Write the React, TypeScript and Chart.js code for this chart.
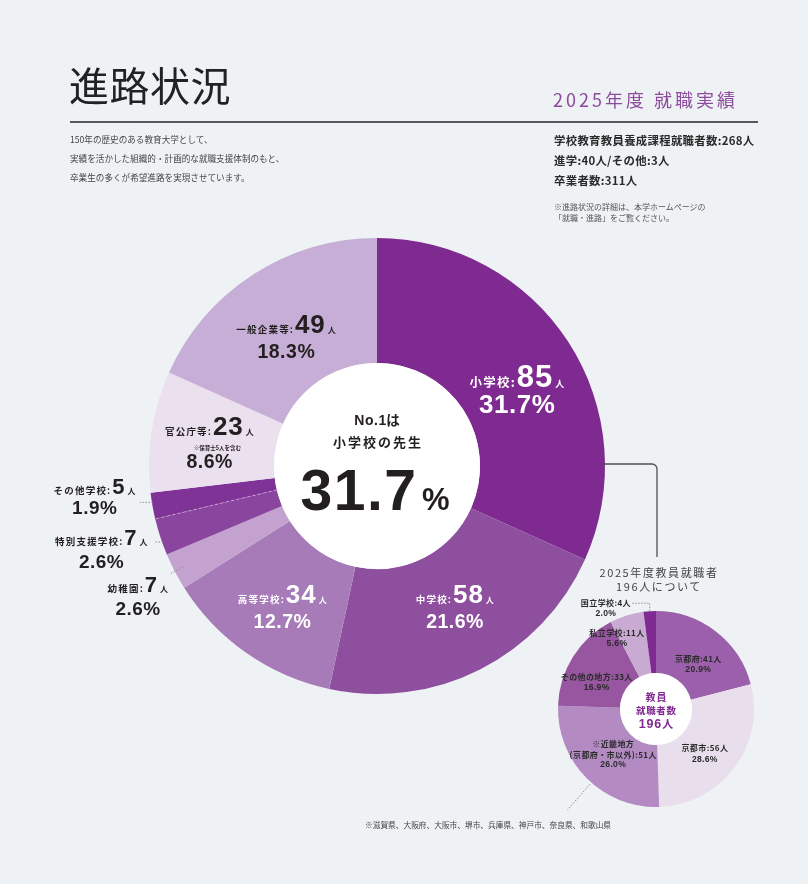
import React, { useEffect, useRef } from 'react';
import { Chart, registerables } from 'chart.js';

Chart.register(...registerables);

// ---------- data ----------
const mainCategories = ['小学校', '中学校', '高等学校', '幼稚園', '特別支援学校', 'その他学校', '官公庁等', '一般企業等'];
const mainCounts = [85, 58, 34, 7, 7, 5, 23, 49];
const mainPercents = ['31.7%', '21.6%', '12.7%', '2.6%', '2.6%', '1.9%', '8.6%', '18.3%'];
const mainColors = ['#7f2a90', '#8e4f9f', '#a67bb8', '#c4a2cf', '#8a459f', '#7f3396', '#ebe0ee', '#c6aed6'];
const mainNote = '※保育士5人を含む';

const teacherCategories = ['京都府', '京都市', '※近畿地方|(京都府・市以外)', 'その他の地方', '私立学校', '国立学校'];
const teacherCounts = [41, 56, 51, 33, 11, 4];
const teacherPercents = ['20.9%', '28.6%', '26.0%', '16.9%', '5.6%', '2.0%'];
const teacherColors = ['#9b5fab', '#e9dfec', '#b48ac3', '#97569f', '#c8aad3', '#7f2a90'];

const summaryLines = ['学校教育教員養成課程就職者数:268人', '進学:40人/その他:3人', '卒業者数:311人'];
const introLines = ['150年の歴史のある教育大学として、', '実績を活かした組織的・計画的な就職支援体制のもと、', '卒業生の多くが希望進路を実現させています。'];

// ---------- styles ----------
const BG = '#eff2f4';
const JP = '"Noto Sans CJK JP", "Noto Sans", sans-serif';
const NUM = '"Liberation Sans", Arial, sans-serif';
const DARK = '#231f20';
const PURPLE = '#7f2a90';

type Part = { text: string; size: number; family: string; weight?: string; ls?: number; color: string; gap?: number };

function setFont(ctx: CanvasRenderingContext2D, p: Part) {
  ctx.font = `${p.weight ?? 'bold'} ${p.size}px ${p.family}`;
}
function partWidth(ctx: CanvasRenderingContext2D, p: Part) {
  setFont(ctx, p);
  const ls = p.ls ?? 0;
  let w = 0;
  for (const c of Array.from(p.text)) w += ctx.measureText(c).width + ls;
  return w - ls + (p.gap ?? 0);
}
function drawParts(ctx: CanvasRenderingContext2D, parts: Part[], cx: number, baseline: number) {
  const widths = parts.map((p) => partWidth(ctx, p));
  const total = widths.reduce((a, b) => a + b, 0);
  let x = cx - total / 2;
  ctx.textAlign = 'left';
  ctx.textBaseline = 'alphabetic';
  parts.forEach((p, i) => {
    setFont(ctx, p);
    ctx.fillStyle = p.color;
    const ls = p.ls ?? 0;
    if (ls === 0) {
      ctx.fillText(p.text, x, baseline);
    } else {
      let xx = x;
      for (const c of Array.from(p.text)) {
        ctx.fillText(c, xx, baseline);
        xx += ctx.measureText(c).width + ls;
      }
    }
    x += widths[i];
  });
  return { left: cx - total / 2, right: cx + total / 2 };
}

const sizeSets: Record<string, { name: number; num: number; unit: number; pct: number }> = {
  large: { name: 12.5, num: 31, unit: 9, pct: 26 },
  normal: { name: 9.5, num: 26, unit: 8, pct: 19.5 },
  outside: { name: 9.5, num: 22, unit: 8, pct: 19 },
};

type MainLayout = {
  place: 'in' | 'out';
  dx: number;
  dy: [number, number];
  size: string;
  light: boolean;
  noteDy?: number;
  leader?: { type: 'h'; dy: number; len: number } | { type: 'r'; r0: number; r1: number };
};

const mainLabelLayout: MainLayout[] = [
  { place: 'in', dx: 1, dy: [11, 37], size: 'large', light: true },
  { place: 'in', dx: 3, dy: [-11, 14], size: 'normal', light: true },
  { place: 'in', dx: 0, dy: [1, 26], size: 'normal', light: true },
  { place: 'out', dx: -37, dy: [21, 44], size: 'outside', light: false, leader: { type: 'r', r0: -9, r1: 6 } },
  { place: 'out', dx: -59, dy: [8, 31], size: 'outside', light: false, leader: { type: 'h', dy: 5, len: 9 } },
  { place: 'out', dx: -58, dy: [-12, 8], size: 'outside', light: false, leader: { type: 'h', dy: -3.5, len: 13 } },
  { place: 'in', dx: -4, dy: [-6, 27], size: 'normal', light: false, noteDy: 9 },
  { place: 'in', dx: -1, dy: [6, 31], size: 'normal', light: false },
];

const teacherLabelLayout = [
  { r: 0.62, dx: 5, dy: [1, 11] },
  { r: 0.62, dx: 0, dy: [6, 17] },
  { r: 0.62, dx: 0, dy: [-5, 6, 15] },
  { r: 0.62, dx: -8, dy: [3, 13] },
  { r: 0.62, dx: -21, dy: [-15, -5] },
  { r: 1.0, dx: -44, dy: [-5, 5], leader: true },
];

function dotted(ctx: CanvasRenderingContext2D, pts: [number, number][]) {
  ctx.save();
  ctx.strokeStyle = '#8d8d8d';
  ctx.lineWidth = 1;
  ctx.setLineDash([1.5, 1.5]);
  ctx.beginPath();
  ctx.moveTo(pts[0][0], pts[0][1]);
  for (let i = 1; i < pts.length; i++) ctx.lineTo(pts[i][0], pts[i][1]);
  ctx.stroke();
  ctx.restore();
}

const mainPlugin = {
  id: 'mainDecor',
  afterDatasetsDraw(chart: any) {
    const ctx: CanvasRenderingContext2D = chart.ctx;
    const arcs = chart.getDatasetMeta(0).data;
    const a0 = arcs[0];
    const cx = a0.x, cy = a0.y, R = a0.outerRadius, r = a0.innerRadius;
    ctx.save();
    // white centre
    ctx.fillStyle = '#ffffff';
    ctx.beginPath();
    ctx.arc(cx, cy, r, 0, Math.PI * 2);
    ctx.fill();
    // dashed boundary between the two dark small slices
    const ang = arcs[4].endAngle;
    ctx.save();
    ctx.strokeStyle = 'rgba(255,255,255,0.55)';
    ctx.lineWidth = 0.8;
    ctx.setLineDash([3, 2.5]);
    ctx.beginPath();
    ctx.moveTo(cx + Math.cos(ang) * r, cy + Math.sin(ang) * r);
    ctx.lineTo(cx + Math.cos(ang) * R, cy + Math.sin(ang) * R);
    ctx.stroke();
    ctx.restore();

    // connector to the teacher chart
    ctx.save();
    ctx.strokeStyle = '#4d4f52';
    ctx.lineWidth = 1.3;
    ctx.beginPath();
    ctx.moveTo(cx + R - 4, cy - 2);
    ctx.lineTo(cx + 275, cy - 2);
    ctx.arcTo(cx + 280, cy - 2, cx + 280, cy + 3, 5);
    ctx.lineTo(cx + 280, cy + 91);
    ctx.stroke();
    ctx.restore();

    // centre text
    drawParts(ctx, [
      { text: 'No.1', size: 14, family: NUM, color: DARK, ls: 0.5 },
      { text: 'は', size: 13.5, family: JP, color: DARK },
    ], cx, cy - 41);
    drawParts(ctx, [{ text: '小学校の先生', size: 13, family: JP, color: DARK, ls: 2 }], cx, cy - 19);
    drawParts(ctx, [
      { text: mainPercents[0].replace('%', ''), size: 57, family: NUM, color: DARK, ls: 1.5, gap: 6 },
      { text: '%', size: 31, family: NUM, color: DARK },
    ], cx - 2, cy + 44);

    // slice labels
    arcs.forEach((arc: any, i: number) => {
      const L = mainLabelLayout[i];
      const s = sizeSets[L.size];
      const mid = (arc.startAngle + arc.endAngle) / 2;
      let ax: number, ay: number;
      if (L.place === 'in') {
        const p = arc.getCenterPoint();
        ax = p.x; ay = p.y;
      } else {
        ax = cx + Math.cos(mid) * R;
        ay = cy + Math.sin(mid) * R;
      }
      const col = L.light ? '#ffffff' : DARK;
      drawParts(ctx, [
        { text: mainCategories[i] + ':', size: s.name, family: JP, color: col, ls: 1.2, gap: 2 },
        { text: String(mainCounts[i]), size: s.num, family: NUM, color: col, ls: 1, gap: 3 },
        { text: '人', size: s.unit, family: JP, color: col },
      ], ax + L.dx, ay + L.dy[0]);
      if (L.noteDy !== undefined) {
        drawParts(ctx, [{ text: mainNote, size: 5.5, family: JP, color: DARK }], ax + L.dx + 8, ay + L.noteDy);
      }
      drawParts(ctx, [{ text: mainPercents[i], size: s.pct, family: NUM, color: col, ls: 0.5 }], ax + L.dx, ay + L.dy[1]);
      if (L.leader) {
        if (L.leader.type === 'r') {
          const { r0, r1 } = L.leader;
          dotted(ctx, [
            [cx + Math.cos(mid) * (R + r0), cy + Math.sin(mid) * (R + r0)],
            [cx + Math.cos(mid) * (R + r1), cy + Math.sin(mid) * (R + r1)],
          ]);
        } else {
          const y = ay + L.leader.dy;
          const ex = cx - Math.sqrt(R * R - (y - cy) * (y - cy));
          dotted(ctx, [[ex + 1, y], [ex + 1 - L.leader.len, y]]);
        }
      }
    });
    ctx.restore();
  },
};

const teacherPlugin = {
  id: 'teacherDecor',
  afterDatasetsDraw(chart: any) {
    const ctx: CanvasRenderingContext2D = chart.ctx;
    const arcs = chart.getDatasetMeta(0).data;
    const a0 = arcs[0];
    const cx = a0.x, cy = a0.y, R = a0.outerRadius, r = a0.innerRadius;
    ctx.save();
    ctx.fillStyle = '#ffffff';
    ctx.beginPath();
    ctx.arc(cx, cy, r, 0, Math.PI * 2);
    ctx.fill();

    drawParts(ctx, [{ text: '教員', size: 10, family: JP, color: PURPLE, ls: 1 }], cx, cy - 8);
    drawParts(ctx, [{ text: '就職者数', size: 9.5, family: JP, color: PURPLE, ls: 0.6 }], cx, cy + 5);
    drawParts(ctx, [
      { text: '196', size: 12.5, family: NUM, color: PURPLE, ls: 0.8, gap: 1 },
      { text: '人', size: 11, family: JP, color: PURPLE },
    ], cx, cy + 19);

    arcs.forEach((arc: any, i: number) => {
      const L = teacherLabelLayout[i];
      const mid = (arc.startAngle + arc.endAngle) / 2;
      const ax = cx + Math.cos(mid) * R * L.r;
      const ay = cy + Math.sin(mid) * R * L.r;
      const nameLines = teacherCategories[i].split('|');
      const lines: Part[][] = nameLines.map((n, k) =>
        k === nameLines.length - 1
          ? [{ text: `${n}:${teacherCounts[i]}人`, size: 8, family: JP, color: '#2b2b2b', ls: 0.4 }]
          : [{ text: n, size: 8, family: JP, color: '#2b2b2b', ls: 0.4 }]
      );
      lines.push([{ text: teacherPercents[i], size: 8.6, family: NUM, color: '#2b2b2b', ls: 0.3 }]);
      lines.forEach((parts, k) => drawParts(ctx, parts, ax + L.dx, ay + L.dy[k]));
      if (L.leader) {
        dotted(ctx, [[ax, ay], [ax, ay - 8], [ax - 18, ay - 8]]);
      }
    });

    // leader for the footnote (inside the 近畿 slice)
    const kinki = arcs[2];
    const ang = kinki.startAngle + (kinki.endAngle - kinki.startAngle) * 0.46;
    dotted(ctx, [
      [cx + Math.cos(ang) * (R + 2), cy + Math.sin(ang) * (R + 2)],
      [cx + Math.cos(ang) * (R + 36), cy + Math.sin(ang) * (R + 36)],
    ]);
    ctx.restore();
  },
};

export default function App() {
  const bigRef = useRef<HTMLCanvasElement>(null);
  const smallRef = useRef<HTMLCanvasElement>(null);

  useEffect(() => {
    const common = {
      responsive: false,
      maintainAspectRatio: false,
      animation: false as const,
      devicePixelRatio: 1,
      events: [] as any[],
      plugins: { legend: { display: false }, tooltip: { enabled: false } },
    };
    const big = new Chart(bigRef.current!, {
      type: 'doughnut',
      data: {
        labels: mainCategories,
        datasets: [{ data: mainCounts, backgroundColor: mainColors, borderWidth: 0, hoverOffset: 0, offset: 0 }],
      },
      options: {
        ...common,
        cutout: 103,
        layout: { padding: { left: 149, top: 238, right: 203, bottom: 190 } },
      } as any,
      plugins: [mainPlugin],
    });
    const small = new Chart(smallRef.current!, {
      type: 'doughnut',
      data: {
        labels: teacherCategories,
        datasets: [{ data: teacherCounts, backgroundColor: teacherColors, borderWidth: 0, hoverOffset: 0, offset: 0 }],
      },
      options: {
        ...common,
        cutout: 36,
        layout: { padding: { left: 558, top: 611, right: 54, bottom: 77 } },
      } as any,
      plugins: [teacherPlugin],
    });
    return () => {
      big.destroy();
      small.destroy();
    };
  }, []);

  const abs = (left: number, top: number, extra: React.CSSProperties = {}): React.CSSProperties => ({
    position: 'absolute',
    left,
    top,
    lineHeight: 1,
    whiteSpace: 'nowrap',
    fontFamily: JP,
    ...extra,
  });

  return (
    <div style={{ position: 'absolute', left: 0, top: 0, width: 808, height: 884, background: BG, overflow: 'hidden' }}>
      <canvas ref={bigRef} width={808} height={884} style={{ position: 'absolute', left: 0, top: 0, width: 808, height: 884 }} />
      <canvas ref={smallRef} width={808} height={884} style={{ position: 'absolute', left: 0, top: 0, width: 808, height: 884 }} />

      <div style={abs(69, 64, { fontSize: 40, color: '#222', letterSpacing: 0.5 })}>進路状況</div>
      <div style={{ position: 'absolute', left: 70, top: 121, width: 688, height: 2, background: '#55585c' }} />
      <div style={abs(553, 90, { fontSize: 18, color: '#8c4a9c', letterSpacing: 3 })}>2025年度 就職実績</div>

      {introLines.map((t, i) => (
        <div key={t} style={abs(70, 134.5 + i * 19.3, { fontSize: 8.6, color: '#444' })}>{t}</div>
      ))}

      {summaryLines.map((t, i) => (
        <div key={t} style={abs(554, 135 + i * 20, { fontSize: 11.4, fontWeight: 700, color: '#2a2a2a', letterSpacing: 0.3 })}>{t}</div>
      ))}
      <div style={abs(554, 203, { fontSize: 8, color: '#555' })}>※進路状況の詳細は、本学ホームページの</div>
      <div style={abs(554, 214, { fontSize: 8, color: '#555' })}>「就職・進路」をご覧ください。</div>

      <div style={abs(559, 566.5, { width: 200, textAlign: 'center', fontSize: 11, color: '#444', letterSpacing: 1.6 })}>2025年度教員就職者</div>
      <div style={abs(559, 580.5, { width: 200, textAlign: 'center', fontSize: 11, color: '#444', letterSpacing: 1.6 })}>196人について</div>

      <div style={abs(365, 820.5, { fontSize: 7.7, color: '#444' })}>※滋賀県、大阪府、大阪市、堺市、兵庫県、神戸市、奈良県、和歌山県</div>
    </div>
  );
}
